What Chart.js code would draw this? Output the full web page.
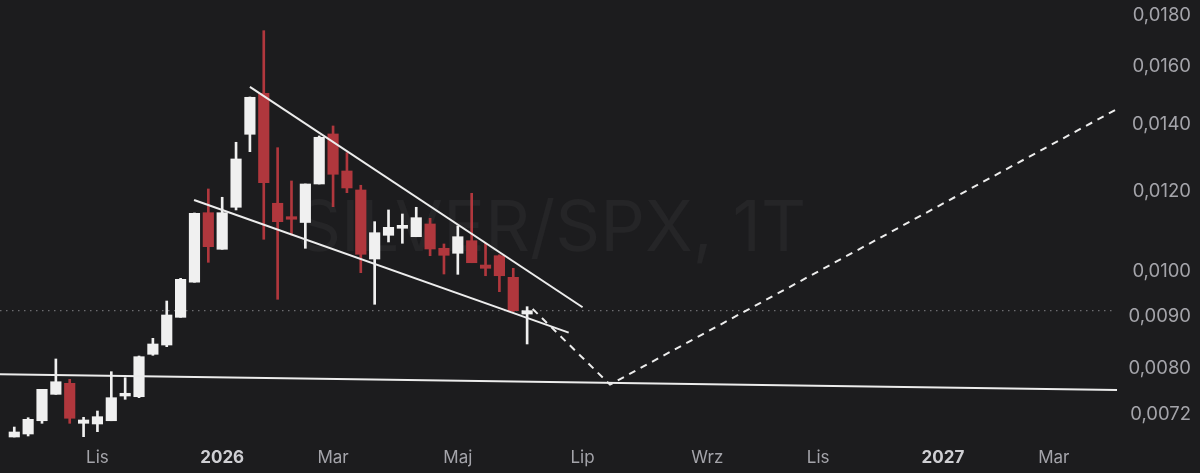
<!DOCTYPE html>
<html>
<head>
<meta charset="utf-8">
<script src="https://cdn.jsdelivr.net/npm/chart.js@4"></script>
<style>
  html, body { margin: 0; padding: 0; background: #1c1c1e; }
  #wrap { width: 1200px; height: 473px; }
</style>
</head>
<body>
<div id="wrap"><canvas id="chart"></canvas></div>
<script>
// Weekly candles, SILVER/SPX (week index 0 = 22 Sep 2025)
const weeks = Array.from({ length: 38 }, (_, i) => i);
const opens = [0.006832, 0.006879, 0.007092, 0.007535, 0.007728, 0.007050, 0.007039, 0.007092, 0.007506, 0.007494,
  0.008260, 0.008438, 0.008992, 0.009745, 0.011433, 0.010512, 0.011576, 0.013688, 0.015039, 0.011683,
  0.011329, 0.011179, 0.012212, 0.013698, 0.012582, 0.012045, 0.010280, 0.010855, 0.011031, 0.010820,
  0.011141, 0.010536, 0.010416, 0.010721, 0.010139, 0.010358, 0.009857, 0.009060];
const highs = [0.006990, 0.007141, 0.007622, 0.008172, 0.007799, 0.007148, 0.007252, 0.007937, 0.007828, 0.008228,
  0.008569, 0.009335, 0.009834, 0.011426, 0.012073, 0.011845, 0.013439, 0.014911, 0.017363, 0.013273,
  0.012297, 0.012212, 0.013635, 0.013952, 0.013122, 0.012176, 0.011200, 0.011505, 0.011399, 0.011576,
  0.011287, 0.010641, 0.011090, 0.011954, 0.010658, 0.010380, 0.010063, 0.009214];
const lows = [0.006832, 0.006848, 0.007050, 0.007535, 0.007050, 0.006837, 0.006916, 0.007092, 0.007449, 0.007477,
  0.008241, 0.008406, 0.008992, 0.009745, 0.010202, 0.010512, 0.011505, 0.013152, 0.010756, 0.009372,
  0.010863, 0.010536, 0.012212, 0.011592, 0.011971, 0.009962, 0.009265, 0.010690, 0.010658, 0.010820,
  0.010358, 0.009932, 0.009925, 0.010193, 0.009893, 0.009537, 0.009113, 0.008458];
const closes = [0.006911, 0.007115, 0.007622, 0.007756, 0.007132, 0.007104, 0.007158, 0.007477, 0.007553, 0.008215,
  0.008458, 0.009040, 0.009812, 0.011418, 0.010575, 0.011433, 0.012934, 0.014901, 0.012249, 0.011200,
  0.011262, 0.012212, 0.013594, 0.012487, 0.012101, 0.010392, 0.010920, 0.011056, 0.011107, 0.011303,
  0.010519, 0.010368, 0.010820, 0.010193, 0.010063, 0.009893, 0.009130, 0.009130];

// x axis labels (week index where the month starts)
const tickWeeks = [6, 15, 23, 32, 41, 50, 58, 67, 75];
const tickLabels = ['Lis', '2026', 'Mar', 'Maj', 'Lip', 'Wrz', 'Lis', '2027', 'Mar'];
const yearLabels = ['2026', '2027'];

// price axis labels
const priceTicks = [0.0180, 0.0160, 0.0140, 0.0120, 0.0100, 0.0090, 0.0080, 0.0072];

// drawn lines (week index, price)
const upperTrend = [{ x: 17.0, y: 0.01526 }, { x: 41.0, y: 0.009202 }];
const lowerTrend = [{ x: 12.97, y: 0.01177 }, { x: 40.0, y: 0.008681 }];
const supportLine = [{ x: -1.03, y: 0.007889 }, { x: 79.56, y: 0.007610 }];
const projection = [{ x: 37.4, y: 0.009166 }, { x: 42.98, y: 0.007705 }, { x: 79.56, y: 0.014506 }];

const UP = '#f0f0f0';
const DOWN = '#b0373d';
const TEXT = '#a4a4aa';

const candleColors = weeks.map(i => closes[i] >= opens[i] ? UP : DOWN);
const lastPrice = closes[closes.length - 1];

// faint symbol watermark behind the candles
const watermark = {
    id: 'watermark',
    beforeDatasetsDraw(chart) {
        const { ctx, chartArea } = chart;
        ctx.save();
        ctx.font = '70px Inter';
        ctx.fillStyle = '#252527';
        ctx.textAlign = 'center';
        ctx.textBaseline = 'alphabetic';
        ctx.fillText('SILVER/SPX, 1T', chartArea.left + chartArea.width * 0.493, 251);
        ctx.restore();
    }
};

const ctx = document.getElementById('chart').getContext('2d');
new Chart(ctx, {
    type: 'bar',
    data: {
        datasets: [
            {
                type: 'line',
                data: upperTrend,
                borderColor: '#ececec',
                borderWidth: 2,
                pointRadius: 0,
                order: 0
            },
            {
                type: 'line',
                data: lowerTrend,
                borderColor: '#ececec',
                borderWidth: 2,
                pointRadius: 0,
                order: 0
            },
            {
                type: 'line',
                data: supportLine,
                borderColor: '#ececec',
                borderWidth: 2,
                pointRadius: 0,
                order: 0
            },
            {
                type: 'line',
                data: projection,
                borderColor: '#ececec',
                borderWidth: 2,
                borderDash: [7, 6],
                pointRadius: 0,
                order: 0
            },
            {
                // candle bodies
                data: weeks.map(i => ({ x: i, y: [opens[i], closes[i]] })),
                backgroundColor: candleColors,
                barThickness: 10.5,
                minBarLength: 2,
                grouped: false,
                order: 1
            },
            {
                // wicks
                data: weeks.map(i => ({ x: i, y: [lows[i], highs[i]] })),
                backgroundColor: candleColors,
                barThickness: 2,
                grouped: false,
                order: 2
            },
            {
                // last price line
                type: 'line',
                data: [{ x: -1.03, y: lastPrice }, { x: 79.3, y: lastPrice }],
                borderColor: '#6c6c70',
                borderWidth: 1.2,
                borderDash: [1.5, 4.5],
                pointRadius: 0,
                order: 3
            }
        ]
    },
    options: {
        responsive: true,
        maintainAspectRatio: false,
        animation: false,
        layout: { padding: { right: 9, top: 0, left: 0, bottom: 0 } },
        plugins: {
            legend: { display: false },
            tooltip: { enabled: false }
        },
        scales: {
            x: {
                type: 'linear',
                min: -1.03,
                max: 79.63,
                offset: false,
                grid: { display: false, drawTicks: false },
                border: { display: false },
                afterBuildTicks: scale => {
                    scale.ticks = tickWeeks.map(v => ({ value: v }));
                },
                afterFit: scale => {
                    scale.height = 33;
                    scale.paddingLeft = 0;
                    scale.paddingRight = 0;
                },
                ticks: {
                    padding: 8,
                    maxRotation: 0,
                    autoSkip: false,
                    callback: (value) => tickLabels[tickWeeks.indexOf(value)],
                    color: c => yearLabels.includes(tickLabels[c.index]) ? '#cfcfd3' : TEXT,
                    font: c => ({
                        family: 'Inter',
                        size: 17,
                        weight: yearLabels.includes(tickLabels[c.index]) ? 'bold' : 'normal'
                    })
                }
            },
            y: {
                type: 'logarithmic',
                position: 'right',
                min: 0.006785,
                max: 0.01863,
                grid: { display: false, drawTicks: false },
                border: { display: false },
                afterBuildTicks: scale => {
                    scale.ticks = priceTicks.map(v => ({ value: v }));
                },
                afterFit: scale => {
                    scale.width = 73;
                    scale.paddingTop = 0;
                    scale.paddingBottom = 0;
                },
                ticks: {
                    crossAlign: 'far',
                    color: TEXT,
                    font: { family: 'Inter', size: 18.5 },
                    callback: v => v.toFixed(4).replace('.', ',')
                }
            }
        }
    },
    plugins: [watermark]
});
</script>
</body>
</html>
